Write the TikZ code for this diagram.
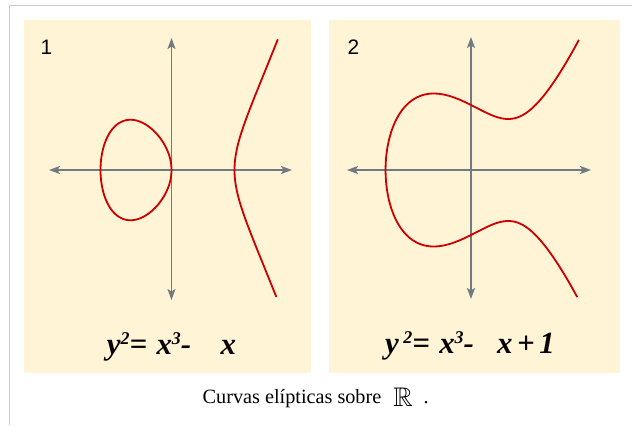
\documentclass[tikz,border=0pt]{standalone}
\usepackage{amssymb}
\usepackage{fontspec}
\setmainfont{Liberation Serif}
\newfontfamily\numfont{Liberation Sans}
\usetikzlibrary{arrows.meta}
\definecolor{paper}{RGB}{255,244,214}
\definecolor{axisgray}{RGB}{112,122,128}
\definecolor{curvered}{RGB}{204,0,0}
\definecolor{framegray}{RGB}{200,204,209}
\newcommand{\eqpow}[1]{\raisebox{0.32em}{\fontsize{18}{18}\selectfont #1}}

\begin{document}
\begin{tikzpicture}[x=1bp,y=-1bp,
 axis/.style={axisgray,line width=1.7bp,{Stealth[length=11bp,width=8bp,inset=2.5bp]}-{Stealth[length=11bp,width=8bp,inset=2.5bp]}},
 curve/.style={curvered,line width=1.8bp,line join=round},
 panellab/.style={anchor=base west,inner sep=0pt,font=\numfont\fontsize{21}{22}\selectfont},
 eqn/.style={anchor=base,inner sep=0pt,font=\bfseries\itshape\fontsize{31}{34}\selectfont}]
 \useasboundingbox (0,0) rectangle (632,425);
 \draw[framegray,line width=1bp] (9,425) -- (9,5) -- (632,5);
 % the two panels
 \fill[paper] (24,20) rectangle (311,373);
 \fill[paper] (329,20) rectangle (620,373);
 \node[panellab] (lab1) at (40.5,54) {1};
 \node[panellab] (lab2) at (347.5,54) {2};
 % axes
 \coordinate (o1) at (171.5,170);
 \coordinate (o2) at (471,170);
 \coordinate (w1) at (49,170);  \coordinate (e1) at (292,170);
 \coordinate (n1) at (171.5,38); \coordinate (s1) at (171.5,300);
 \coordinate (w2) at (347,170); \coordinate (e2) at (591,170);
 \coordinate (n2) at (471,37);  \coordinate (s2) at (471,299);
 \draw[axis] (w1) -- (e1);
 \draw[axis] (n1) -- (s1);
 \draw[axis] (w2) -- (e2);
 \draw[axis] (n2) -- (s2);
 % y^2 = x^3 - x
 \begin{scope}[shift={(o1)},xscale=71,yscale=-81]
  \draw[curve] plot[domain=0:360,samples=121,smooth,variable=\t]
   ({-(sin(\t/2))^2},{sin(\t)/2*sqrt(1+(sin(\t/2))^2)}) -- cycle;
 \end{scope}
 \begin{scope}[shift={(o1)},xscale=63,yscale=-74]
  \draw[curve] plot[domain=-0.815:0.83,samples=61,smooth,variable=\t]
   ({1+(\t)*(\t)},{(\t)*sqrt((1+(\t)*(\t))*(2+(\t)*(\t)))});
 \end{scope}
 % y^2 = x^3 - x + 1
 \begin{scope}[shift={(o2)},xscale=64.5,yscale=-65]
  \draw[curve] plot[domain=-1.724:1.733,samples=121,smooth,variable=\t]
   ({-1.324718+(\t)*(\t)},{(\t)*sqrt((-1.324718+(\t)*(\t))^2-1.324718*(-1.324718+(\t)*(\t))+0.754878)});
 \end{scope}
 \node[eqn] (eq1) at (171.5,354) {y\eqpow{2}=\hspace{0.3em}x\eqpow{3}-\hspace{0.95em}x};
 \node[eqn] (eq2) at (470,353) {y\hspace{0.15em}\eqpow{2}=\hspace{0.3em}x\eqpow{3}-\hspace{0.75em}x\hspace{0.15em}+\hspace{0.15em}1};
 \node[anchor=base west,inner sep=0pt,font=\fontsize{20.3}{24}\selectfont] (cap) at (202.5,403)
  {Curvas elípticas sobre\hspace{12bp}\raisebox{-3bp}{\fontsize{27}{27}\selectfont$\mathbb{R}$}\hspace{11bp}.};
\end{tikzpicture}
\end{document}
